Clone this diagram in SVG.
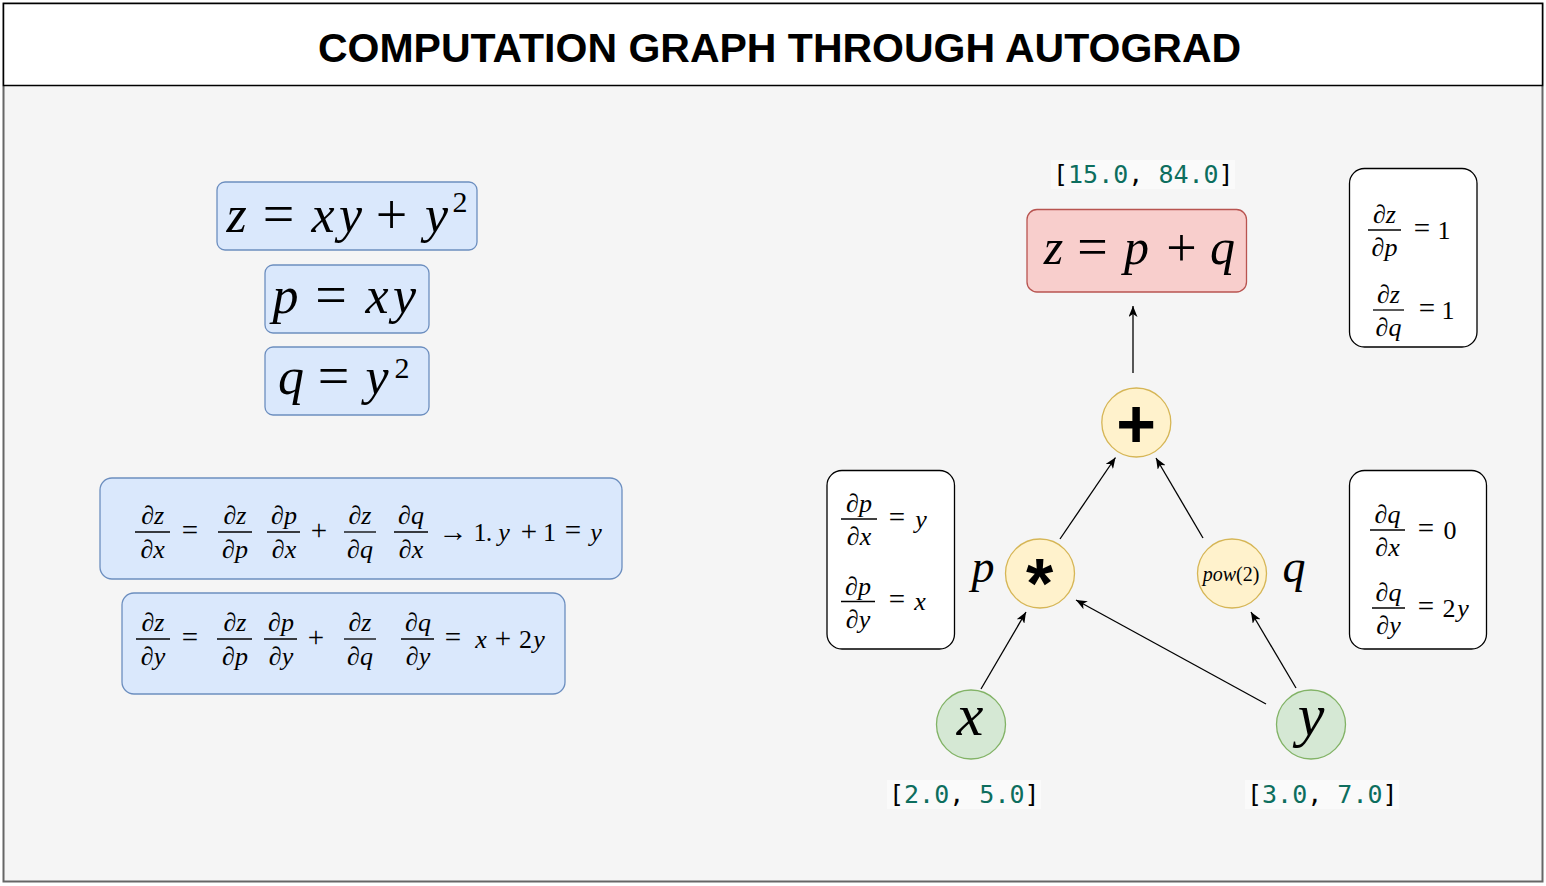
<svg xmlns="http://www.w3.org/2000/svg" width="1546" height="886" viewBox="0 0 1546 886">
<defs>
<style>
.m{font-family:"Liberation Serif","DejaVu Serif",serif;font-style:italic;fill:#000}
.u{font-style:normal}
.o{font-style:normal;font-size:29px}
.blue{fill:#dae8fc;stroke:#6c8ebf;stroke-width:1.3}
.white{fill:#ffffff;stroke:#000;stroke-width:1.3}
.op{fill:#fff2cc;stroke:#d6b656;stroke-width:1.3}
.leaf{fill:#d5e8d4;stroke:#82b366;stroke-width:1.3}
.bar{stroke:#000;stroke-width:1.3}
.mono{font-family:"DejaVu Sans Mono","Liberation Mono",monospace;font-size:25px;fill:#000}
.num{fill:#0d6e5e}
.conn line{stroke:#000;stroke-width:1.3;marker-end:url(#ah)}
.f{font-size:26px;text-anchor:middle}
</style>
<marker id="ah" viewBox="0 0 11 9" markerWidth="11" markerHeight="9" refX="11" refY="4.5" orient="auto" markerUnits="userSpaceOnUse">
<path d="M0,0 L11,4.5 L0,9 L3,4.5 Z" fill="#000"/>
</marker>
</defs>
<rect x="0" y="0" width="1546" height="886" fill="#ffffff"/>
<rect x="3.5" y="3.5" width="1539" height="878" fill="#f5f5f5" stroke="#666666" stroke-width="2"/>
<g id="title">
<rect x="3.5" y="3.5" width="1539" height="82" fill="#ffffff" stroke="#000" stroke-width="1.5"/>
<text x="779.5" y="62" text-anchor="middle" font-family="Liberation Sans, Arial, sans-serif" font-weight="bold" font-size="41">COMPUTATION GRAPH THROUGH AUTOGRAD</text>
</g>

<g id="eq-z">
<rect class="blue" x="217" y="182" width="260" height="68" rx="8"/>
<g class="m" font-size="52" text-anchor="middle">
<text x="236.5" y="232">z</text><text class="u" x="278.5" y="233" font-size="56">=</text><text x="323" y="232">x</text><text x="350.5" y="232">y</text><text class="u" x="391.5" y="234" font-size="56">+</text><text x="436.5" y="232">y</text>
<text class="u" x="460" y="212" font-size="30">2</text>
</g>
</g>
<g id="eq-p">
<rect class="blue" x="265" y="265" width="164" height="68" rx="8"/>
<g class="m" font-size="52" text-anchor="middle">
<text x="285.5" y="313">p</text><text class="u" x="331" y="314" font-size="56">=</text><text x="377" y="313">x</text><text x="404.5" y="313">y</text>
</g>
</g>
<g id="eq-q">
<rect class="blue" x="265" y="347" width="164" height="68" rx="8"/>
<g class="m" font-size="52" text-anchor="middle">
<text x="291" y="394">q</text><text class="u" x="333.5" y="395" font-size="56">=</text><text x="377" y="394">y</text>
<text class="u" x="402" y="378" font-size="30">2</text>
</g>
</g>

<g id="eq-dzdx">
<rect class="blue" x="100" y="478" width="522" height="101" rx="12"/>
<g class="m f">
<text x="152.7" y="524">∂z</text><line class="bar" x1="135" y1="532" x2="170" y2="532"/><text x="152.7" y="558">∂x</text>
<text class="o" x="190" y="540">=</text>
<text x="235" y="524">∂z</text><line class="bar" x1="218" y1="532" x2="252" y2="532"/><text x="235" y="558">∂p</text>
<text x="284" y="524">∂p</text><line class="bar" x1="267" y1="532" x2="300" y2="532"/><text x="284" y="558">∂x</text>
<text class="o" x="319" y="540">+</text>
<text x="360" y="524">∂z</text><line class="bar" x1="344" y1="532" x2="376" y2="532"/><text x="360" y="558">∂q</text>
<text x="411" y="524">∂q</text><line class="bar" x1="394" y1="532" x2="428" y2="532"/><text x="411" y="558">∂x</text>
<text class="o" x="453" y="541">→</text>
<text class="u" x="480" y="541">1</text><text class="u" x="489" y="541">.</text><text x="504" y="541">y</text><text class="o" x="529" y="541">+</text><text class="u" x="549.5" y="541">1</text><text class="o" x="573" y="540">=</text><text x="596" y="541">y</text>
</g>
</g>

<g id="eq-dzdy">
<rect class="blue" x="122" y="593" width="443" height="101" rx="12"/>
<g class="m f">
<text x="153" y="631">∂z</text><line class="bar" x1="136" y1="639" x2="170" y2="639"/><text x="153" y="665">∂y</text>
<text class="o" x="190" y="647">=</text>
<text x="235" y="631">∂z</text><line class="bar" x1="217" y1="639" x2="252" y2="639"/><text x="235" y="665">∂p</text>
<text x="281" y="631">∂p</text><line class="bar" x1="264" y1="639" x2="297" y2="639"/><text x="281" y="665">∂y</text>
<text class="o" x="316" y="647">+</text>
<text x="360" y="631">∂z</text><line class="bar" x1="344" y1="639" x2="376" y2="639"/><text x="360" y="665">∂q</text>
<text x="418" y="631">∂q</text><line class="bar" x1="401" y1="639" x2="434" y2="639"/><text x="418" y="665">∂y</text>
<text class="o" x="453" y="647">=</text>
<text x="481" y="648">x</text><text class="o" x="503" y="648">+</text><text class="u" x="525.5" y="648">2</text><text x="539" y="648">y</text>
</g>
</g>

<g id="out-label">
<rect x="1051" y="160" width="184" height="29" fill="#fafafa"/>
<text class="mono" x="1053" y="183">[<tspan class="num">15.0</tspan>, <tspan class="num">84.0</tspan>]</text>
</g>
<g id="node-z">
<rect x="1027" y="209.5" width="219.5" height="82.5" rx="10" fill="#f8cecc" stroke="#b85450" stroke-width="1.3"/>
<g class="m" font-size="50" text-anchor="middle">
<text x="1053.5" y="264">z</text><text class="u" x="1092.5" y="265" font-size="54">=</text><text x="1136.5" y="264">p</text><text class="u" x="1181.5" y="266" font-size="54">+</text><text x="1222.5" y="264">q</text>
</g>
</g>

<g id="grad-z">
<rect class="white" x="1349.5" y="168.5" width="127.5" height="178.5" rx="15"/>
<g class="m f">
<text x="1384.5" y="223">∂z</text><line class="bar" x1="1368" y1="230" x2="1401" y2="230"/><text x="1384.5" y="256">∂p</text>
<text class="o" x="1422" y="238">=</text><text class="u" x="1444" y="239">1</text>
<text x="1388.5" y="303">∂z</text><line class="bar" x1="1373" y1="310" x2="1404" y2="310"/><text x="1388.5" y="336">∂q</text>
<text class="o" x="1427" y="318">=</text><text class="u" x="1448" y="319">1</text>
</g>
</g>

<g id="grad-p">
<rect class="white" x="827" y="470.5" width="127.5" height="178.5" rx="15"/>
<g class="m f">
<text x="859" y="512">∂p</text><line class="bar" x1="841" y1="519" x2="877" y2="519"/><text x="859" y="545">∂x</text>
<text class="o" x="897" y="527">=</text><text x="921" y="528">y</text>
<text x="858" y="594.5">∂p</text><line class="bar" x1="841" y1="601.5" x2="875" y2="601.5"/><text x="858" y="627.5">∂y</text>
<text class="o" x="897" y="609">=</text><text x="920" y="610">x</text>
</g>
</g>

<g id="grad-q">
<rect class="white" x="1349.5" y="470.5" width="137" height="178.5" rx="15"/>
<g class="m f">
<text x="1387.5" y="523">∂q</text><line class="bar" x1="1370" y1="530" x2="1405" y2="530"/><text x="1387.5" y="556">∂x</text>
<text class="o" x="1426" y="538">=</text><text class="u" x="1450" y="539">0</text>
<text x="1388.5" y="601">∂q</text><line class="bar" x1="1372" y1="608" x2="1405" y2="608"/><text x="1388.5" y="634">∂y</text>
<text class="o" x="1426" y="616">=</text><text class="u" x="1449" y="617">2</text><text x="1463" y="617">y</text>
</g>
</g>

<g id="node-plus">
<circle class="op" cx="1136.3" cy="422.5" r="34.5"/>
<text x="1136" y="447" text-anchor="middle" font-family="Liberation Sans, Arial, sans-serif" font-weight="bold" font-size="68">+</text>
</g>
<g id="node-mul">
<circle class="op" cx="1040" cy="573.5" r="34.5"/>
<text x="1039.5" y="608" text-anchor="middle" font-family="Liberation Sans, Arial, sans-serif" font-weight="bold" font-size="70">*</text>
</g>
<g id="node-pow">
<circle class="op" cx="1232" cy="573.5" r="34.5"/>
<text class="m" x="1231" y="581" text-anchor="middle" font-size="20">pow<tspan class="u">(2)</tspan></text>
</g>
<g id="label-p"><text class="m" x="983" y="582" text-anchor="middle" font-size="46">p</text></g>
<g id="label-q"><text class="m" x="1294" y="582" text-anchor="middle" font-size="46">q</text></g>

<g id="node-x">
<circle class="leaf" cx="971" cy="724.5" r="34.5"/>
<text class="m" x="970" y="735" text-anchor="middle" font-size="60">x</text>
</g>
<g id="node-y">
<circle class="leaf" cx="1311" cy="724.5" r="34.5"/>
<text class="m" x="1311" y="735" text-anchor="middle" font-size="60">y</text>
</g>
<g id="x-label">
<rect x="887" y="780" width="154" height="29" fill="#fafafa"/>
<text class="mono" x="889" y="803">[<tspan class="num">2.0</tspan>, <tspan class="num">5.0</tspan>]</text>
</g>
<g id="y-label">
<rect x="1245" y="780" width="154" height="29" fill="#fafafa"/>
<text class="mono" x="1247" y="803">[<tspan class="num">3.0</tspan>, <tspan class="num">7.0</tspan>]</text>
</g>

<g id="connectors" class="conn">
<line x1="1133" y1="373" x2="1133" y2="306"/>
<line x1="1060" y1="539" x2="1115.5" y2="457.5"/>
<line x1="1203" y1="538" x2="1156" y2="458"/>
<line x1="981" y1="689" x2="1026" y2="612"/>
<line x1="1266" y1="704" x2="1076" y2="600"/>
<line x1="1296" y1="688" x2="1251" y2="612"/>
</g>
</svg>
